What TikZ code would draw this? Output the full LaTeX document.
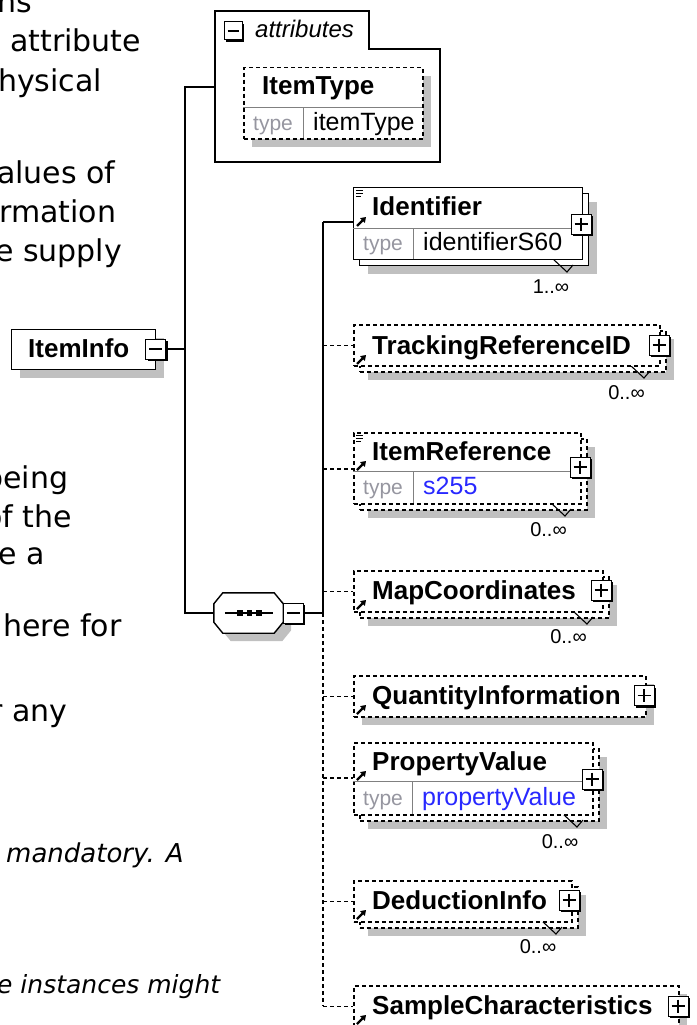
\documentclass[tikz,border=0pt]{standalone}
\usepackage{fontspec}
\setmainfont{DejaVu Sans}
\newfontfamily\diag{Liberation Sans}
\usetikzlibrary{arrows.meta,shadows}
\definecolor{shgray}{RGB}{192,192,192}
\definecolor{typegray}{RGB}{150,150,160}
\definecolor{sepgray}{RGB}{128,128,128}
\definecolor{typeblue}{RGB}{40,40,255}
\begin{document}
\begin{tikzpicture}[x=1pt, y=-1pt,
    ebox/.style={draw, line width=1.4pt, fill=white, inner sep=0pt, anchor=north west},
    optbox/.style={ebox, line width=1.5pt, dash pattern=on 4pt off 3pt},
    eshadow/.style={drop shadow={shadow xshift=8pt, shadow yshift=-8pt, fill=shgray, opacity=1}},
    pmbox/.style={draw, fill=white, line width=1pt, minimum size=20pt, inner sep=0pt,
        drop shadow={shadow xshift=2pt, shadow yshift=-2pt, fill=black, opacity=1}},
    plusbox/.style={pmbox, path picture={\draw[line width=1.4pt]
        ([xshift=3.5pt]path picture bounding box.west) -- ([xshift=-3.5pt]path picture bounding box.east)
        ([yshift=-3.5pt]path picture bounding box.north) -- ([yshift=3.5pt]path picture bounding box.south);}},
    minusbox/.style={pmbox, path picture={\draw[line width=1.4pt]
        ([xshift=3.5pt]path picture bounding box.west) -- ([xshift=-3.5pt]path picture bounding box.east);}},
    conn/.style={line width=1.4pt},
    optconn/.style={conn, line width=1.5pt, dash pattern=on 4pt off 3pt},
    rowline/.style={line width=1pt, draw=sepgray},
    ename/.style={font=\diag\bfseries\fontsize{26}{30}\selectfont, anchor=base west, inner sep=0pt},
    tlabel/.style={font=\diag\fontsize{21}{24}\selectfont, text=typegray, anchor=base west, inner sep=0pt},
    tvalue/.style={font=\diag\fontsize{25}{30}\selectfont, anchor=base west, inner sep=0pt},
    occurs/.style={font=\diag\fontsize{20}{24}\selectfont, inner sep=0pt},
    ptext/.style={font=\fontsize{30}{36}\selectfont, anchor=base west, inner sep=0pt},
    refarrow/.style={line width=2.2pt, -{Triangle[length=5pt, width=6.5pt]}},
    icon/.style={line width=1pt},
    notch/.style={line width=1.1pt}]
    \useasboundingbox (0,0) rectangle (696,1025);
    \clip (0,0) rectangle (696,1025);
    \fill[white] (0,0) rectangle (696,1025);

    % text of the page behind the diagram
    \node[ptext] (p1) at (-3,13) {ns};
    \node[ptext] (p2) at (10,52) {attribute};
    \node[ptext] (p3) at (-2,91) {hysical};
    \node[ptext] (p4) at (-3,183) {alues of};
    \node[ptext] (p5) at (-1,222) {rmation};
    \node[ptext] (p6) at (-5,261) {e supply};
    \node[ptext] (p7) at (-16,488) {being};
    \node[ptext] (p8) at (-16,527) {of the};
    \node[ptext] (p9) at (-2,564) {e a};
    \node[ptext] (p10) at (3,636) {here for};
    \node[ptext] (p11) at (-10,721) {r any};
    \node[ptext, font=\itshape\fontsize{26}{30}\selectfont] (p12) at (6,862) {mandatory. A};
    \node[ptext, font=\itshape\fontsize{25}{30}\selectfont] (p13) at (-3,993) {e instances might};

    % attributes
    \draw[line width=1.4pt] (215,11) -- (369,11) -- (369,49) -- (440,49) -- (440,162) -- (215,162) -- cycle;
    \coordinate (attrpin) at (215,87);
    \node[pmbox, minimum size=18pt, path picture={\draw[line width=1.4pt]
        ([xshift=3.5pt]path picture bounding box.west) -- ([xshift=-3.5pt]path picture bounding box.east);}]
        (attrminus) at (233,31) {};
    \node[font=\diag\itshape\fontsize{24}{28}\selectfont, anchor=base west, inner sep=0pt] (attrlabel) at (255,38) {attributes};
    \node[optbox, eshadow, minimum width=179pt, minimum height=71pt] (itbox) at (243,67) {};
    \draw[rowline] (243,107) -- (422,107) (303,107) -- (303,138);
    \node[ename] (itname) at (262,95) {ItemType};
    \node[tlabel] (ittype) at (253,130) {type};
    \node[tvalue] (itvalue) at (313,130) {itemType};

    % ItemInfo
    \node[ebox, eshadow, minimum width=144pt, minimum height=40pt] (info) at (11,329) {};
    \node[ename] (infoname) at (28,357) {ItemInfo};
    \node[minusbox] (infominus) at (155.5,349) {};

    % sequence
    \node[minimum width=69pt, minimum height=40pt, inner sep=0pt] (seq) at (248.5,613) {};
    \draw[eshadow, fill=white, line width=1.4pt] ([xshift=9pt]seq.north west) -- ([xshift=-9pt]seq.north east)
        -- ([yshift=-11pt]seq.north east) -- ([yshift=11pt]seq.south east) -- ([xshift=-9pt]seq.south east)
        -- ([xshift=9pt]seq.south west) -- ([yshift=11pt]seq.south west) -- ([yshift=-11pt]seq.north west) -- cycle;
    \draw[line width=1.4pt] ([xshift=11pt]seq.west) -- ([xshift=-10pt]seq.east);
    \foreach \sx in {240,249.5,259}
        \fill (\sx-2.8,610.2) rectangle (\sx+2.8,615.8);
    \node[minusbox] (seqminus) at (293,613) {};

    % Identifier
    \node[ebox, eshadow, minimum width=229pt, minimum height=72pt] (idback) at (359,193) {};
    \draw[notch] (553,259) -- (567,272) -- (573,265);
    \node[ebox, minimum width=229pt, minimum height=72pt] (idbox) at (353,187) {};
    \draw[rowline] (353,228) -- (582,228) (413,228) -- (413,259);
    \draw[icon] (356,190) -- (363,190) (356,193) -- (363,193) (356,196) -- (361,196);
    \draw[refarrow] (357,226) -- (366,217);
    \node[ename] (idname) at (372,215) {Identifier};
    \node[tlabel] (idtype) at (363,250) {type};
    \node[tvalue] (idvalue) at (423,250) {identifierS60};
    \node[plusbox] (idplus) at (581,224) {};
    \node[occurs] (idocc) at (551,287) {1..∞};
    \coordinate (idpin) at (353,222);

    % TrackingReferenceID
    \node[optbox, eshadow, minimum width=306pt, minimum height=41pt] (trkback) at (359,330) {};
    \draw[notch] (630,365) -- (644,378) -- (650,371);
    \node[optbox, minimum width=306pt, minimum height=41pt] (trk) at (353,324) {};
    \draw[refarrow] (357,364) -- (366,355);
    \node[ename] (trkname) at (372,354) {TrackingReferenceID};
    \node[plusbox] (trkplus) at (659,345) {};
    \node[occurs] (trkocc) at (626.5,392.5) {0..∞};

    % ItemReference
    \node[optbox, eshadow, minimum width=227pt, minimum height=71pt] (irback) at (359,438) {};
    \draw[notch] (551,503) -- (565,516) -- (571,509);
    \node[optbox, minimum width=227pt, minimum height=71pt] (irbox) at (353,432) {};
    \draw[rowline] (353,471) -- (580,471) (413,471) -- (413,503);
    \draw[icon] (356,435) -- (363,435) (356,438) -- (363,438) (356,441) -- (361,441);
    \draw[refarrow] (357,470) -- (366,461);
    \node[ename] (irname) at (372,460) {ItemReference};
    \node[tlabel] (irtype) at (363,494) {type};
    \node[tvalue, text=typeblue] (irvalue) at (423,494) {s255};
    \node[plusbox] (irplus) at (580,467) {};
    \node[occurs] (irocc) at (548.5,530) {0..∞};
    \coordinate (irpin) at (353,469);

    % MapCoordinates
    \node[optbox, eshadow, minimum width=249pt, minimum height=41pt] (mapback) at (359,576) {};
    \draw[notch] (573,611) -- (587,624) -- (593,617);
    \node[optbox, minimum width=249pt, minimum height=41pt] (map) at (353,570) {};
    \draw[refarrow] (357,609) -- (366,600);
    \node[ename] (mapname) at (372,599) {MapCoordinates};
    \node[plusbox] (mapplus) at (601,590) {};
    \node[occurs] (mapocc) at (568.5,637) {0..∞};

    % QuantityInformation
    \node[optbox, eshadow, minimum width=292pt, minimum height=41pt] (qty) at (353,675) {};
    \draw[refarrow] (357,714) -- (366,705);
    \node[ename] (qtyname) at (372,704) {QuantityInformation};
    \node[plusbox] (qtyplus) at (644,695.5) {};

    % PropertyValue
    \node[optbox, eshadow, minimum width=239pt, minimum height=72pt] (pvback) at (359,748) {};
    \draw[notch] (563,814) -- (577,827) -- (583,820);
    \node[optbox, minimum width=239pt, minimum height=72pt] (pvbox) at (353,742) {};
    \draw[rowline] (353,781) -- (592,781) (412,781) -- (412,814);
    \draw[refarrow] (357,780) -- (366,771);
    \node[ename] (pvname) at (372,770) {PropertyValue};
    \node[tlabel] (pvtype) at (363,805) {type};
    \node[tvalue, text=typeblue] (pvvalue) at (422,805) {propertyValue};
    \node[plusbox] (pvplus) at (592,779) {};
    \node[occurs] (pvocc) at (560,842) {0..∞};
    \coordinate (pvpin) at (353,778);

    % DeductionInfo
    \node[optbox, eshadow, minimum width=218pt, minimum height=41pt] (dedback) at (359,886) {};
    \draw[notch] (542,921) -- (556,934) -- (562,927);
    \node[optbox, minimum width=218pt, minimum height=41pt] (ded) at (353,880) {};
    \draw[refarrow] (357,919) -- (366,910);
    \node[ename] (dedname) at (372,909) {DeductionInfo};
    \node[plusbox] (dedplus) at (569,900) {};
    \node[occurs] (dedocc) at (538,947) {0..∞};

    % SampleCharacteristics
    \node[optbox, eshadow, minimum width=325pt, minimum height=41pt] (smp) at (353,985) {};
    \draw[refarrow] (357,1024) -- (366,1015);
    \node[ename] (smpname) at (372,1014) {SampleCharacteristics};
    \node[plusbox] (smpplus) at (678,1006) {};

    % connectors
    \coordinate (lknee) at (185,87);
    \coordinate (rtop) at (323,222);
    \draw[conn] (attrpin) -- (lknee) -- (lknee |- seq.west) -- (seq.west);
    \draw[conn] (infominus.east) -- (infominus.east -| lknee);
    \draw[conn] (seqminus.east) -- (seqminus.east -| rtop);
    \draw[conn] (rtop) -- (rtop |- seq.east);
    \draw[optconn] (rtop |- seq.east) -- (smp.west -| rtop);
    \draw[conn] (rtop) -- (idpin);
    \draw[optconn] (trk.west -| rtop) -- (trk.west);
    \draw[optconn] (irpin -| rtop) -- (irpin);
    \draw[optconn] (map.west -| rtop) -- (map.west);
    \draw[optconn] (qty.west -| rtop) -- (qty.west);
    \draw[optconn] (pvpin -| rtop) -- (pvpin);
    \draw[optconn] (ded.west -| rtop) -- (ded.west);
    \draw[optconn] (smp.west -| rtop) -- (smp.west);
\end{tikzpicture}
\end{document}
